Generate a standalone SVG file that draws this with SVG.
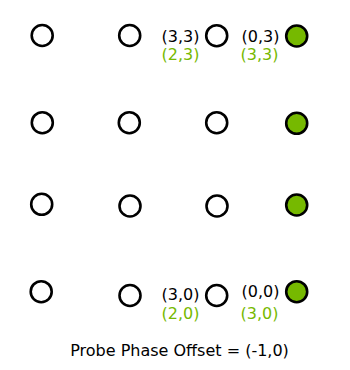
<svg xmlns="http://www.w3.org/2000/svg" width="350" height="370" viewBox="0 0 350 370">
<style>
.p{fill:#fff;stroke:#000;stroke-width:2.6}
.g{fill:#76b900;stroke:#000;stroke-width:2.6}
.t{font-family:"DejaVu Sans",sans-serif;font-size:16px;fill:#000}
.tg{font-family:"DejaVu Sans",sans-serif;font-size:16px;fill:#76b900}
</style>
<rect width="350" height="370" fill="#fff"/>
<g id="connectors"/>
<g id="r3c0"><circle class="p" cx="42.2" cy="35.5" r="10.5"/></g>
<g id="r3c1"><circle class="p" cx="129.7" cy="35.5" r="10.5"/></g>
<g id="r3c2"><circle class="p" cx="216.7" cy="35.7" r="10.5"/><text class="t" x="161.5" y="41.5">(3,3)</text><text class="tg" x="161.5" y="60">(2,3)</text></g>
<g id="r3c3"><circle class="g" cx="296.7" cy="36" r="10.5"/><text class="t" x="241.5" y="41.5">(0,3)</text><text class="tg" x="240.5" y="60">(3,3)</text></g>
<g id="r2c0"><circle class="p" cx="42.3" cy="122.7" r="10.5"/></g>
<g id="r2c1"><circle class="p" cx="129.3" cy="122.7" r="10.5"/></g>
<g id="r2c2"><circle class="p" cx="216.7" cy="122.7" r="10.5"/></g>
<g id="r2c3"><circle class="g" cx="296.7" cy="123.3" r="10.5"/></g>
<g id="r1c0"><circle class="p" cx="41.7" cy="204.3" r="10.5"/></g>
<g id="r1c1"><circle class="p" cx="130" cy="206" r="10.5"/></g>
<g id="r1c2"><circle class="p" cx="217" cy="206" r="10.5"/></g>
<g id="r1c3"><circle class="g" cx="296.7" cy="205" r="10.5"/></g>
<g id="r0c0"><circle class="p" cx="41.2" cy="291.7" r="10.5"/></g>
<g id="r0c1"><circle class="p" cx="130" cy="295.5" r="10.5"/></g>
<g id="r0c2"><circle class="p" cx="216.7" cy="295.5" r="10.5"/><text class="t" x="161.5" y="300">(3,0)</text><text class="tg" x="161.5" y="318.5">(2,0)</text></g>
<g id="r0c3"><circle class="g" cx="296.7" cy="291.7" r="10.5"/><text class="t" x="241.5" y="297">(0,0)</text><text class="tg" x="240.5" y="318.5">(3,0)</text></g>
<g id="caption"><text class="t" x="179.5" y="355.5" text-anchor="middle">Probe Phase Offset = (-1,0)</text></g>
</svg>
